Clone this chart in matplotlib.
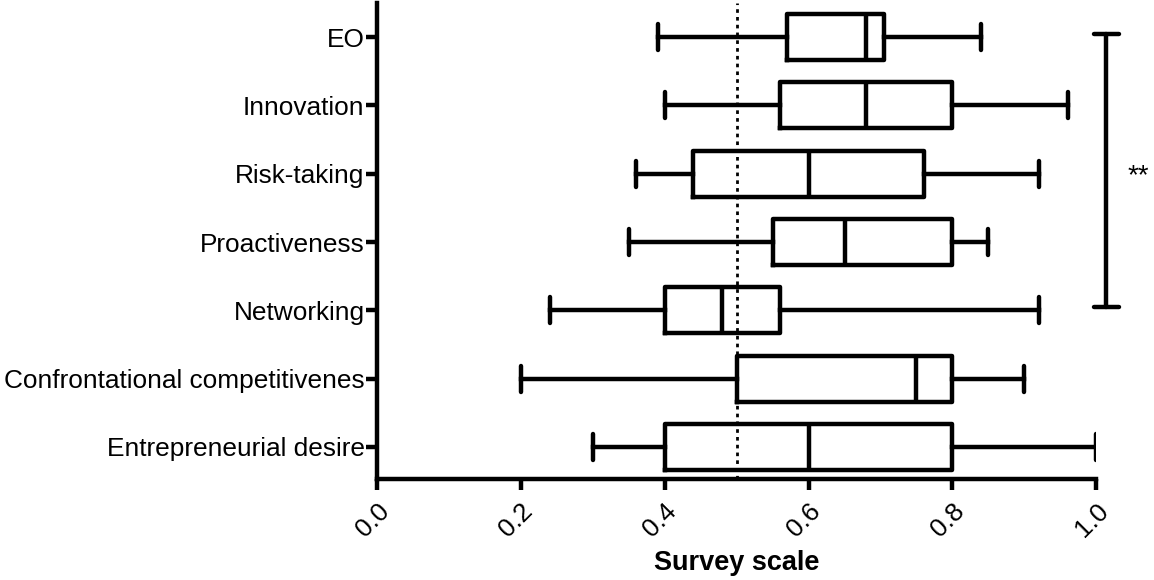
import matplotlib
matplotlib.use("Agg")
import matplotlib.pyplot as plt

plt.rcParams['font.family'] = ['Liberation Sans', 'DejaVu Sans']

# categories, bottom to top
labels = ['Entrepreneurial desire', 'Confrontational competitivenes', 'Networking',
          'Proactiveness', 'Risk-taking', 'Innovation', 'EO']
whislo = [0.30, 0.20, 0.24, 0.35, 0.36, 0.40, 0.39]
q1     = [0.40, 0.50, 0.40, 0.55, 0.44, 0.56, 0.57]
med    = [0.60, 0.75, 0.48, 0.65, 0.60, 0.68, 0.68]
q3     = [0.80, 0.80, 0.56, 0.80, 0.76, 0.80, 0.705]
whishi = [1.00, 0.90, 0.92, 0.85, 0.92, 0.96, 0.84]
xticks = [0.0, 0.2, 0.4, 0.6, 0.8, 1.0]
ref_line = 0.5

stats = []
for i in range(len(labels)):
    stats.append({'label': labels[i], 'whislo': whislo[i], 'q1': q1[i], 'med': med[i],
                  'q3': q3[i], 'whishi': whishi[i], 'fliers': []})

fig = plt.figure(figsize=(11.54, 5.80), dpi=100)
ax = fig.add_axes([0.3267, 0.174, 0.6233, 0.821])

lw = 3.2
ax.bxp(stats, positions=range(len(labels)), vert=False, widths=0.67, capwidths=0.38,
       showfliers=False,
       boxprops=dict(color='black', linewidth=lw),
       whiskerprops=dict(color='black', linewidth=lw),
       capprops=dict(color='black', linewidth=lw, solid_capstyle='round'),
       medianprops=dict(color='black', linewidth=lw))

# dotted reference line
ax.axvline(ref_line, color='black', linewidth=2.0, linestyle=(0, (1.3, 1.5)), zorder=0)

# significance bracket EO..Networking
bx = 1.014
ax.plot([bx, bx], [6.05, 2.05], color='black', linewidth=lw, clip_on=False, solid_capstyle='round')
ax.plot([bx - 0.017, bx + 0.017], [6.05, 6.05], color='black', linewidth=lw, clip_on=False, solid_capstyle='round')
ax.plot([bx - 0.017, bx + 0.017], [2.05, 2.05], color='black', linewidth=lw, clip_on=False, solid_capstyle='round')
ax.text(1.043, 3.97, '**', fontsize=20, va='center', ha='left', clip_on=False)

ax.set_xlim(0, 1.0)
ax.set_ylim(-0.47, 6.5)
ax.set_xticks(xticks)
ax.set_xticklabels(['%.1f' % t for t in xticks], rotation=45, ha='right', rotation_mode='anchor')
ax.set_yticks(range(len(labels)))
ax.set_yticklabels(labels)
ax.tick_params(axis='both', labelsize=18.9, width=lw, length=8, direction='out')
ax.tick_params(axis='y', pad=1)
ax.tick_params(axis='x', pad=6)

for s in ['top', 'right']:
    ax.spines[s].set_visible(False)
for s in ['left', 'bottom']:
    ax.spines[s].set_linewidth(lw)

ax.set_xlabel('Survey scale', fontsize=19.5, fontweight='bold', labelpad=6)

fig.savefig('out.png', dpi=100)
